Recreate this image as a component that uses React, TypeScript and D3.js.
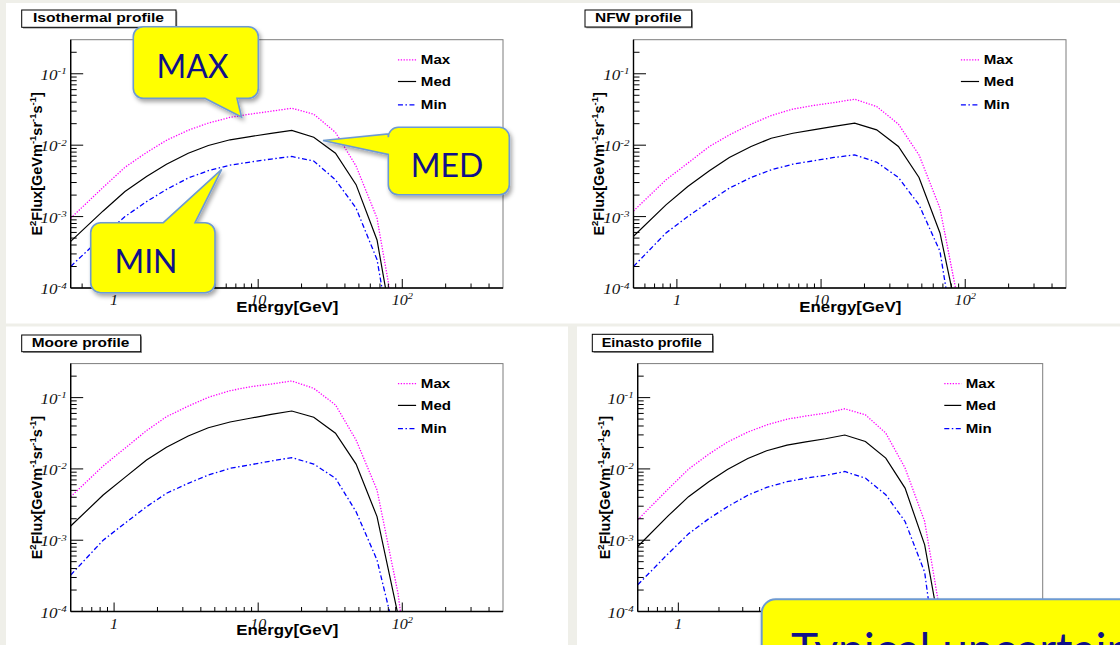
import React from 'react';
import * as d3 from 'd3';

// Energy grid of the gamma-ray spectra (GeV)
const ENERGY = [0.5, 0.84, 1.19, 1.68, 2.31, 3.27, 4.51, 6.38, 8.79, 12.3, 17.1, 24.3, 34.4, 47.8, 66.8, 93.5, 131];

// E^2 Flux [GeV m^-1 sr^-1 s^-1] for each halo profile
const ISO_MAX = [9.5e-4, 2.57e-3, 4.9e-3, 7.9e-3, 1.17e-2, 1.62e-2, 2.04e-2, 2.45e-2, 2.72e-2, 2.99e-2, 3.29e-2, 2.72e-2, 1.51e-2, 5.1e-3, 9.5e-4, 2e-5, 1e-7];
const ISO_MED = [4.5e-4, 1.2e-3, 2.25e-3, 3.65e-3, 5.4e-3, 7.7e-3, 9.9e-3, 1.19e-2, 1.32e-2, 1.46e-2, 1.61e-2, 1.29e-2, 7.7e-3, 2.8e-3, 4.7e-4, 1e-5, 1e-7];
const ISO_MIN = [2.0e-4, 5.4e-4, 1.0e-3, 1.62e-3, 2.4e-3, 3.47e-3, 4.4e-3, 5.25e-3, 5.8e-3, 6.4e-3, 6.95e-3, 6.0e-3, 3.27e-3, 1.31e-3, 2.5e-4, 5e-6, 1e-8];

const NFW_MAX = [1.2e-3, 3.27e-3, 5.6e-3, 9.6e-3, 1.39e-2, 1.97e-2, 2.6e-2, 3.21e-2, 3.59e-2, 3.95e-2, 4.4e-2, 3.48e-2, 1.97e-2, 7.3e-3, 1.31e-3, 4e-5, 1e-7];
const NFW_MED = [5.3e-4, 1.46e-3, 2.64e-3, 4.37e-3, 6.73e-3, 9.6e-3, 1.25e-2, 1.47e-2, 1.64e-2, 1.83e-2, 2.03e-2, 1.64e-2, 9.6e-3, 3.53e-3, 5.9e-4, 2.4e-5, 1e-7];
const NFW_MIN = [2.0e-4, 5.9e-4, 1.0e-3, 1.63e-3, 2.5e-3, 3.53e-3, 4.52e-3, 5.42e-3, 6.03e-3, 6.73e-3, 7.31e-3, 5.78e-3, 3.53e-3, 1.46e-3, 3.26e-4, 5e-6, 1e-8];

const MOORE_MAX = [4.07e-3, 1.1e-2, 1.95e-2, 3.44e-2, 5.4e-2, 7.6e-2, 1.01e-1, 1.25e-1, 1.42e-1, 1.55e-1, 1.71e-1, 1.35e-1, 7.9e-2, 2.54e-2, 5.06e-3, 1.78e-4, 1e-6];
const MOORE_MED = [1.58e-3, 4.3e-3, 7.6e-3, 1.33e-2, 2.01e-2, 2.89e-2, 3.78e-2, 4.55e-2, 5.13e-2, 5.83e-2, 6.49e-2, 5.3e-2, 3.16e-2, 1.17e-2, 2.14e-3, 8.9e-5, 1e-7];
const MOORE_MIN = [3.25e-4, 1.0e-3, 1.73e-3, 2.95e-3, 4.55e-3, 6.28e-3, 8.2e-3, 1.02e-2, 1.14e-2, 1.29e-2, 1.44e-2, 1.17e-2, 7.4e-3, 2.51e-3, 5.27e-4, 3.2e-5, 1e-7];

const EIN_MAX = [1.93e-3, 5.21e-3, 9.93e-3, 1.61e-2, 2.38e-2, 3.29e-2, 4.14e-2, 4.98e-2, 5.52e-2, 6.05e-2, 6.97e-2, 5.74e-2, 3.18e-2, 1.03e-2, 1.83e-3, 4.3e-5, 1e-7];
const EIN_MED = [8.17e-4, 2.19e-3, 4.08e-3, 6.62e-3, 9.84e-3, 1.40e-2, 1.80e-2, 2.15e-2, 2.40e-2, 2.65e-2, 2.99e-2, 2.42e-2, 1.42e-2, 5.38e-3, 8.6e-4, 2.5e-5, 1e-7];
const EIN_MIN = [2.37e-4, 6.46e-4, 1.23e-3, 2.0e-3, 2.95e-3, 4.27e-3, 5.5e-3, 6.61e-3, 7.41e-3, 8.13e-3, 9.2e-3, 7.43e-3, 4.34e-3, 1.83e-3, 3.55e-4, 3e-6, 1e-8];

const PANEL_TITLES = ['Isothermal profile', 'NFW profile', 'Moore profile', 'Einasto profile'];
const LEGEND_LABELS = ['Max', 'Med', 'Min'];
const X_DOMAIN = [0.5, 500];
const Y_DOMAIN = [1e-4, 0.3];
const X_LABEL = 'Energy[GeV]';
const CALLOUT_TEXTS = ['MAX', 'MED', 'MIN'];
const NOTE_TEXT = 'Typical uncertainties';

const SERIES = [
  [ISO_MAX, ISO_MED, ISO_MIN],
  [NFW_MAX, NFW_MED, NFW_MIN],
  [MOORE_MAX, MOORE_MED, MOORE_MIN],
  [EIN_MAX, EIN_MED, EIN_MIN],
];

// Panel geometry
const LAYOUT = [
  { x0: 70.7, x1: 503, y0: 39.7, y1: 288, box: [21.7, 10, 154.3, 17.3], tx: 33, tb: 22, tl: 131, ylx: 41.5 },
  { x0: 633.5, x1: 1066, y0: 39.7, y1: 288, box: [585, 10, 106.7, 17], tx: 595, tb: 22, tl: 86.7, ylx: 603.5 },
  { x0: 70.7, x1: 503, y0: 363.6, y1: 611.5, box: [21.7, 335, 119, 16.7], tx: 31.7, tb: 346.8, tl: 97.6, ylx: 41.5 },
  { x0: 637.7, x1: 1042.7, y0: 363.6, y1: 611.5, box: [592.3, 334.3, 120.4, 17.4], tx: 601.7, tb: 347, tl: 100, ylx: 609.5 },
];

// Note box in the lower right corner; labels under it are not drawn
const NOTE_BOX = { x: 761.7, y: 599.3, w: 420, h: 120, r: 14 };
const underNote = (px: number, py: number) => px > NOTE_BOX.x - 20 && py > NOTE_BOX.y;

const LINE_STYLES = [
  { stroke: '#ff00ff', width: 1.3, dash: '1.3 1.5' },
  { stroke: '#000000', width: 1.2, dash: undefined },
  { stroke: '#0000ff', width: 1.3, dash: '5 2.5 1.5 2.5' },
];

const NAVY = '#10108a';
const CALLOUT_FILL = '#ffff00';
const CALLOUT_EDGE = '#6d9ad2';

function supExp(v: number) {
  return String(Math.round(Math.log10(v)));
}

function Panel({ idx }: { idx: number }) {
  const L = LAYOUT[idx];
  const data = SERIES[idx];
  const x = d3.scaleLog().domain(X_DOMAIN).range([L.x0, L.x1]);
  const y = d3.scaleLog().domain(Y_DOMAIN).range([L.y1, L.y0]);
  const line = d3
    .line<number>()
    .x((_, i) => x(ENERGY[i]))
    .y((d) => y(d));
  const isMajor = (v: number) => Math.abs(Math.log10(v) - Math.round(Math.log10(v))) < 1e-9;
  const xTicks = x.ticks().filter((t) => x(t) > L.x0 + 1 && x(t) < L.x1 - 1);
  const yTicks = y.ticks().filter((t) => y(t) < L.y1 - 0.5 && y(t) > L.y0 + 1);
  const xMajors = x.ticks().filter(isMajor);
  const yMajors = y.ticks().filter(isMajor);
  const w = L.x1 - L.x0;
  const clipId = `clip-${idx}`;
  const legendY = [24.6, 46.3, 69.6];
  const [bx, by, bw, bh] = L.box;
  const xLabelX = (L.x0 + L.x1) / 2 + 0.5;
  const xLabelY = L.y1 + 23.5;
  return (
    <g>
      <defs>
        <clipPath id={clipId}>
          <rect x={L.x0} y={L.y0} width={w} height={L.y1 - L.y0} />
        </clipPath>
      </defs>
      {/* title box */}
      <rect x={bx + 1.3} y={by + 1.3} width={bw} height={bh} fill="#9a9a9a" />
      <rect x={bx} y={by} width={bw} height={bh} fill="#fff" stroke="#000" strokeWidth={1} />
      <text x={L.tx} y={L.tb} fontSize={12} fontWeight="bold" textLength={L.tl} lengthAdjust="spacingAndGlyphs">
        {PANEL_TITLES[idx]}
      </text>
      {/* frame */}
      <rect x={L.x0} y={L.y0} width={w} height={L.y1 - L.y0} fill="#fff" stroke="#7d7d7d" strokeWidth={1} />
      {/* curves */}
      <g clipPath={`url(#${clipId})`}>
        {data.map((s, k) => (
          <path
            key={k}
            d={line(s) || ''}
            fill="none"
            stroke={LINE_STYLES[k].stroke}
            strokeWidth={LINE_STYLES[k].width}
            strokeDasharray={LINE_STYLES[k].dash}
          />
        ))}
      </g>
      {/* axes */}
      <line x1={L.x0} x2={L.x0} y1={L.y0} y2={L.y1} stroke="#000" strokeWidth={1.4} />
      <line x1={L.x0} x2={L.x1} y1={L.y1} y2={L.y1} stroke="#000" strokeWidth={1.4} />
      {xTicks.map((t, i) => {
        const len = isMajor(t) ? 9 : 4.5;
        return <line key={'xt' + i} x1={x(t)} x2={x(t)} y1={L.y1} y2={L.y1 - len} stroke="#000" strokeWidth={1} />;
      })}
      {yTicks.map((t, i) => {
        const len = isMajor(t) ? 12.5 : 6;
        return <line key={'yt' + i} x1={L.x0} x2={L.x0 + len} y1={y(t)} y2={y(t)} stroke="#000" strokeWidth={1} />;
      })}
      {/* tick labels */}
      <g fontFamily="'Liberation Serif', 'Times New Roman', serif" fontStyle="italic" fill="#111">
        {xMajors
          .filter((t) => !underNote(x(t), L.y1 + 17))
          .map((t, i) => {
            const e = Math.round(Math.log10(t));
            return (
              <text key={'xl' + i} transform={`translate(${x(t)},${L.y1 + 17}) scale(1.15,1)`} textAnchor="middle" fontSize={14}>
                {e === 0 ? '1' : '10'}
                {e > 1 ? (
                  <tspan dy={-6} fontSize={9}>
                    {e}
                  </tspan>
                ) : null}
              </text>
            );
          })}
        {yMajors.map((t, i) => (
          <text key={'yl' + i} transform={`translate(${L.x0 - 4},${y(t) + 6}) scale(1.22,1)`} textAnchor="end" fontSize={14}>
            10
            <tspan dy={-5.5} fontSize={9}>
              {supExp(t)}
            </tspan>
          </text>
        ))}
      </g>
      {/* axis titles */}
      {!underNote(xLabelX, xLabelY) ? (
        <text
          x={xLabelX}
          y={xLabelY}
          textAnchor="middle"
          fontSize={14}
          fontWeight="bold"
          textLength={102}
          lengthAdjust="spacingAndGlyphs"
        >
          {X_LABEL}
        </text>
      ) : null}
      <text
        transform={`translate(${L.ylx},${(L.y0 + L.y1) / 2}) rotate(-90)`}
        textAnchor="middle"
        fontSize={14.5}
        fontWeight="bold"
      >
        E<tspan dy={-5.5} fontSize={9.5}>2</tspan>
        <tspan dy={5.5}>Flux[GeVm</tspan>
        <tspan dy={-5.5} fontSize={9.5}>-1</tspan>
        <tspan dy={5.5}>sr</tspan>
        <tspan dy={-5.5} fontSize={9.5}>-1</tspan>
        <tspan dy={5.5}>s</tspan>
        <tspan dy={-5.5} fontSize={9.5}>-1</tspan>
        <tspan dy={5.5}>]</tspan>
      </text>
      {/* legend */}
      {LEGEND_LABELS.map((lab, k) => {
        const ly = L.y0 + legendY[k];
        const st = LINE_STYLES[k];
        return (
          <g key={'lg' + k}>
            <line
              x1={L.x1 - 0.243 * w}
              x2={L.x1 - 0.201 * w}
              y1={ly - 4.5}
              y2={ly - 4.5}
              stroke={st.stroke}
              strokeWidth={st.width}
              strokeDasharray={st.dash}
            />
            <text transform={`translate(${L.x1 - 0.19 * w},${ly}) scale(1.16,1)`} fontSize={13} fontWeight="bold">
              {lab}
            </text>
          </g>
        );
      })}
    </g>
  );
}

type Box = { x: number; y: number; w: number; h: number; r: number };

function calloutPath(b: Box, side: 'top' | 'bottom' | 'left' | 'none', a: number, c: number, tip: [number, number]) {
  const { x, y, w, h, r } = b;
  const p = d3.path();
  p.moveTo(x + r, y);
  if (side === 'top') {
    p.lineTo(a, y);
    p.lineTo(tip[0], tip[1]);
    p.lineTo(c, y);
  }
  p.lineTo(x + w - r, y);
  p.arcTo(x + w, y, x + w, y + r, r);
  p.lineTo(x + w, y + h - r);
  p.arcTo(x + w, y + h, x + w - r, y + h, r);
  if (side === 'bottom') {
    p.lineTo(c, y + h);
    p.lineTo(tip[0], tip[1]);
    p.lineTo(a, y + h);
  }
  p.lineTo(x + r, y + h);
  p.arcTo(x, y + h, x, y + h - r, r);
  if (side === 'left') {
    p.lineTo(x, c);
    p.lineTo(tip[0], tip[1]);
    p.lineTo(x, a);
  }
  p.lineTo(x, y + r);
  p.arcTo(x, y, x + r, y, r);
  p.closePath();
  return p.toString();
}

const CALLOUTS = [
  { box: { x: 133.3, y: 26.7, w: 125, h: 71.6, r: 10 }, side: 'bottom' as const, a: 205, c: 237, tip: [241.5, 117] as [number, number], tx: 192.5, ty: 78.3 },
  { box: { x: 388.3, y: 127.3, w: 121, h: 67.5, r: 10 }, side: 'left' as const, a: 134, c: 154.5, tip: [323, 140.5] as [number, number], tx: 447, ty: 176.7 },
  { box: { x: 90.7, y: 222.7, w: 124.3, h: 70, r: 10 }, side: 'top' as const, a: 163.3, c: 195, tip: [221.7, 169.3] as [number, number], tx: 146, ty: 273.3 },
];

export default function App() {
  return (
    <svg
      width={1120}
      height={645}
      style={{ position: 'absolute', left: 0, top: 0 }}
      fontFamily="'Liberation Sans', Arial, Helvetica, sans-serif"
    >
      <defs>
        <filter id="soft-shadow" x="-20%" y="-20%" width="150%" height="160%">
          <feDropShadow dx={2} dy={3} stdDeviation={2} floodColor="#000" floodOpacity={0.35} />
        </filter>
      </defs>
      <rect x={0} y={0} width={1120} height={645} fill="#efefe9" />
      <rect x={6} y={3} width={1114} height={320.5} fill="#fff" />
      <rect x={6} y={326.5} width={562} height={318.5} fill="#fff" />
      <rect x={577} y={326.5} width={543} height={318.5} fill="#fff" />
      {LAYOUT.map((_, i) => (
        <Panel key={i} idx={i} />
      ))}
      {/* annotations */}
      {CALLOUTS.map((c, i) => (
        <g key={'co' + i}>
          <path
            d={calloutPath(c.box, c.side, c.a, c.c, c.tip)}
            fill={CALLOUT_FILL}
            stroke={CALLOUT_EDGE}
            strokeWidth={1.6}
            filter="url(#soft-shadow)"
          />
          <text x={c.tx} y={c.ty} textAnchor="middle" fontFamily="Lato, 'Open Sans', sans-serif" fontSize={32} fill={NAVY}>
            {CALLOUT_TEXTS[i]}
          </text>
        </g>
      ))}
      <g>
        <path
          d={calloutPath(NOTE_BOX, 'none', 0, 0, [0, 0])}
          fill={CALLOUT_FILL}
          stroke={CALLOUT_EDGE}
          strokeWidth={2}
          filter="url(#soft-shadow)"
        />
        <text x={791} y={666} fontFamily="Lato, 'Open Sans', sans-serif" fontSize={46} fill={NAVY}>
          {NOTE_TEXT}
        </text>
      </g>
    </svg>
  );
}
